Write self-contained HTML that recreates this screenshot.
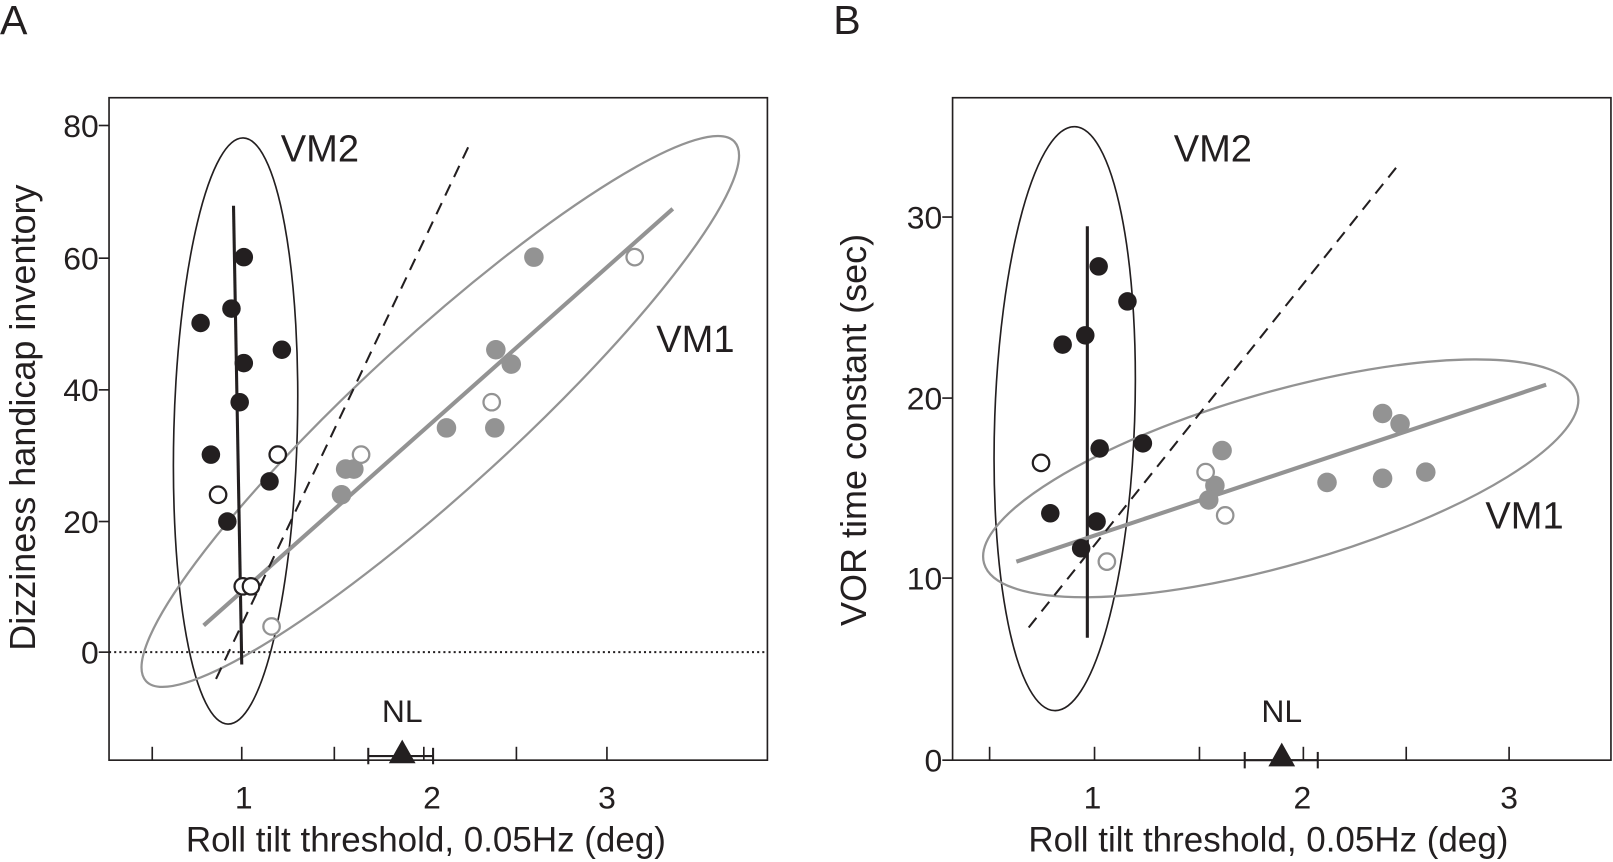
<!DOCTYPE html>
<html><head><style>body{margin:0;background:#fff}svg{display:block}text{font-family:"Liberation Sans",sans-serif;fill:#231f20}</style></head>
<body>
<svg width="1613" height="862" viewBox="0 0 1568 838" preserveAspectRatio="none" xmlns="http://www.w3.org/2000/svg">
<text x="0" y="33" font-size="40">A</text>
<text x="810" y="33" font-size="40">B</text>
<g stroke="#231f20" stroke-width="1.6" fill="none">
<rect x="106" y="95" width="640" height="644"/>
<line x1="96" y1="122" x2="106" y2="122"/><line x1="96" y1="251" x2="106" y2="251"/><line x1="96" y1="379" x2="106" y2="379"/><line x1="96" y1="507" x2="106" y2="507"/><line x1="96" y1="634" x2="106" y2="634"/>
<line x1="148" y1="726" x2="148" y2="739"/><line x1="235" y1="726" x2="235" y2="739"/><line x1="325" y1="726" x2="325" y2="739"/><line x1="412" y1="726" x2="412" y2="739"/><line x1="502" y1="726" x2="502" y2="739"/><line x1="590" y1="726" x2="590" y2="739"/>
<rect x="926" y="95" width="640" height="644"/>
<line x1="916" y1="211" x2="926" y2="211"/><line x1="916" y1="387" x2="926" y2="387"/><line x1="916" y1="562" x2="926" y2="562"/><line x1="916" y1="739" x2="926" y2="739"/>
<line x1="962" y1="726" x2="962" y2="739"/><line x1="1064" y1="726" x2="1064" y2="739"/><line x1="1166" y1="726" x2="1166" y2="739"/><line x1="1267" y1="726" x2="1267" y2="739"/><line x1="1367" y1="726" x2="1367" y2="739"/><line x1="1467" y1="726" x2="1467" y2="739"/>
</g>
<g font-size="31" text-anchor="end">
<text x="96" y="133">80</text><text x="96" y="262">60</text><text x="96" y="390">40</text><text x="96" y="518">20</text><text x="96" y="645">0</text>
<text x="916" y="222">30</text><text x="916" y="398">20</text><text x="916" y="573">10</text><text x="916" y="750">0</text>
</g>
<g font-size="31" text-anchor="middle">
<text x="237" y="786">1</text><text x="420" y="786">2</text><text x="590" y="786">3</text>
<text x="1062" y="786">1</text><text x="1266" y="786">2</text><text x="1467" y="786">3</text>
<text x="414" y="828" font-size="34">Roll tilt threshold, 0.05Hz (deg)</text>
<text x="1233" y="828" font-size="34">Roll tilt threshold, 0.05Hz (deg)</text>
<text transform="translate(34,406) rotate(-90)" font-size="35">Dizziness handicap inventory</text>
<text transform="translate(842,418) rotate(-90)" font-size="35">VOR time constant (sec)</text>
<text x="311" y="157" font-size="37">VM2</text><text x="676" y="342" font-size="37">VM1</text>
<text x="1179" y="157" font-size="37">VM2</text><text x="1482" y="514" font-size="37">VM1</text>
<text x="391" y="702" font-size="31">NL</text><text x="1246" y="702" font-size="31">NL</text>
</g>
<!-- Panel A -->
<line x1="106" y1="634" x2="746" y2="634" stroke="#231f20" stroke-width="2" stroke-dasharray="2,3"/>
<ellipse cx="229" cy="419" rx="60" ry="285" transform="rotate(1.5 229 419)" fill="none" stroke="#231f20" stroke-width="1.6"/>
<ellipse cx="428" cy="400" rx="388" ry="74" transform="rotate(-42.5 428 400)" fill="none" stroke="#939393" stroke-width="2.2"/>
<line x1="227" y1="200" x2="235" y2="646" stroke="#231f20" stroke-width="3"/>
<line x1="198" y1="608" x2="654" y2="203" stroke="#939393" stroke-width="4"/>
<line x1="210" y1="660" x2="458" y2="137" stroke="#231f20" stroke-width="2" stroke-dasharray="12,8"/>
<g fill="#231f20"><circle cx="195" cy="314" r="9"/><circle cx="237" cy="250" r="9"/><circle cx="225" cy="300" r="9"/><circle cx="237" cy="353" r="9"/><circle cx="274" cy="340" r="9"/><circle cx="233" cy="391" r="9"/><circle cx="205" cy="442" r="9"/><circle cx="262" cy="468" r="9"/><circle cx="221" cy="507" r="9"/></g>
<g fill="#fff" stroke="#231f20" stroke-width="2.2"><circle cx="270" cy="442" r="8"/><circle cx="212" cy="481" r="8"/><circle cx="236" cy="570" r="8"/><circle cx="244" cy="570" r="8"/></g>
<g fill="#939393"><circle cx="519" cy="250" r="9.5"/><circle cx="482" cy="340" r="9.5"/><circle cx="497" cy="354" r="9.5"/><circle cx="434" cy="416" r="9.5"/><circle cx="481" cy="416" r="9.5"/><circle cx="336" cy="456" r="9.5"/><circle cx="344" cy="456" r="9.5"/><circle cx="332" cy="481" r="9.5"/></g>
<g fill="#fff" stroke="#939393" stroke-width="2.2"><circle cx="617" cy="250" r="8"/><circle cx="478" cy="391" r="8"/><circle cx="351" cy="442" r="8"/><circle cx="264" cy="609" r="8"/></g>
<g stroke="#231f20" stroke-width="2"><line x1="358" y1="735" x2="421" y2="735"/><line x1="358" y1="727" x2="358" y2="743"/><line x1="421" y1="727" x2="421" y2="743"/></g>
<polygon points="391,719 378,742 404,742" fill="#231f20"/>
<!-- Panel B -->
<ellipse cx="1035" cy="407" rx="68" ry="284" transform="rotate(2 1035 407)" fill="none" stroke="#231f20" stroke-width="1.6"/>
<ellipse cx="1245" cy="465" rx="300" ry="84" transform="rotate(-16 1245 465)" fill="none" stroke="#939393" stroke-width="2.2"/>
<line x1="1057" y1="220" x2="1057" y2="620" stroke="#231f20" stroke-width="3"/>
<line x1="988" y1="546" x2="1503" y2="374" stroke="#939393" stroke-width="4"/>
<line x1="1000" y1="610" x2="1358" y2="162" stroke="#231f20" stroke-width="2" stroke-dasharray="12,8"/>
<g fill="#231f20"><circle cx="1068" cy="259" r="9"/><circle cx="1096" cy="293" r="9"/><circle cx="1055" cy="326" r="9"/><circle cx="1033" cy="335" r="9"/><circle cx="1069" cy="436" r="9"/><circle cx="1111" cy="431" r="9"/><circle cx="1021" cy="499" r="9"/><circle cx="1066" cy="507" r="9"/><circle cx="1051" cy="533" r="9"/></g>
<circle cx="1012" cy="450" r="8" fill="#fff" stroke="#231f20" stroke-width="2.2"/>
<g fill="#939393"><circle cx="1188" cy="438" r="9.5"/><circle cx="1344" cy="402" r="9.5"/><circle cx="1361" cy="412" r="9.5"/><circle cx="1290" cy="469" r="9.5"/><circle cx="1344" cy="465" r="9.5"/><circle cx="1386" cy="459" r="9.5"/><circle cx="1181" cy="472" r="9.5"/><circle cx="1175" cy="486" r="9.5"/></g>
<g fill="#fff" stroke="#939393" stroke-width="2.2"><circle cx="1172" cy="459" r="8"/><circle cx="1191" cy="501" r="8"/><circle cx="1076" cy="546" r="8"/></g>
<g stroke="#231f20" stroke-width="2"><line x1="1210" y1="739" x2="1281" y2="739"/><line x1="1210" y1="731" x2="1210" y2="747"/><line x1="1281" y1="731" x2="1281" y2="747"/></g>
<polygon points="1246,722 1233,745 1259,745" fill="#231f20"/>
</svg>
</body></html>
